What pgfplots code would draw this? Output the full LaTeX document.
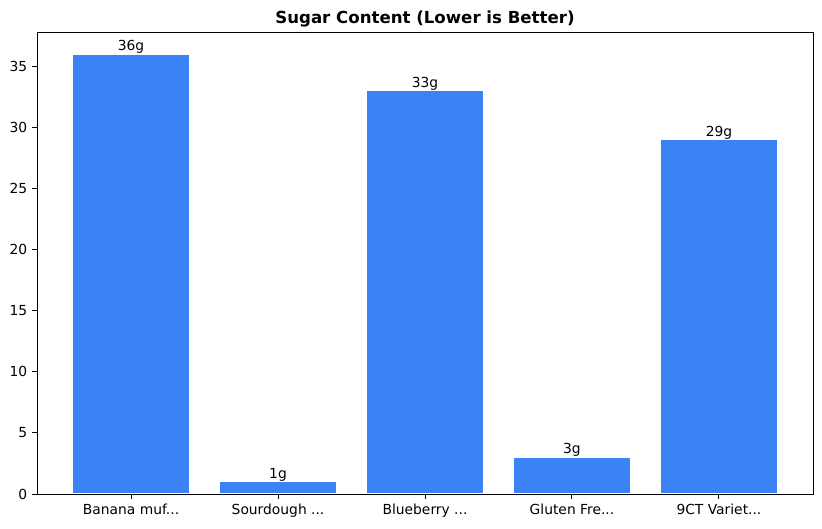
\documentclass[border=0pt]{standalone}
\usepackage{pgfplots}
\pgfplotsset{compat=1.18}
\usepackage{fontspec}
\setmainfont{DejaVu Sans}
\definecolor{barblue}{RGB}{59,130,246}
\newcommand{\dd}{.{}.{}.}
\begin{document}
\begin{tikzpicture}
\begin{axis}[
  name=ax,
  scale only axis,
  width=7.76in, height=4.62in,
  xmin=-0.64, xmax=4.64,
  ymin=0, ymax=37.8,
  xtick={0,1,2,3,4},
  xticklabels={Banana muf\dd,Sourdough \dd,Blueberry \dd,Gluten Fre\dd,9CT Variet\dd},
  ytick={0,5,10,15,20,25,30,35},
  tick align=outside,
  tick pos=left,
  major tick length=3.5pt,
  tick style={black, line width=0.7pt},
  axis line style={line width=0.7pt},
  axis on top,
  /pgf/number format/assume math mode=true,
  tick label style={font=\fontsize{10}{12}\selectfont},
  title={\bfseries Sugar Content (Lower is Better)},
  title style={font=\fontsize{12}{14}\selectfont, yshift=-6pt},
  clip=false,
]
\addplot[ybar, bar width=0.8, fill=barblue, draw=white, line width=0.75pt,
  nodes near coords, point meta=explicit symbolic,
  every node near coord/.append style={font=\fontsize{10}{12}\selectfont, black, anchor=south, inner sep=1pt, yshift=-1pt}]
  table[meta=label] {
x y label
0 36 36g
1 1 1g
2 33 33g
3 3 3g
4 29 29g
};
\end{axis}
\path[use as bounding box] ([xshift=-0.37in,yshift=-0.34in]ax.south west) rectangle ([xshift=0.09in,yshift=0.32in]ax.north east);
\end{tikzpicture}
\end{document}
